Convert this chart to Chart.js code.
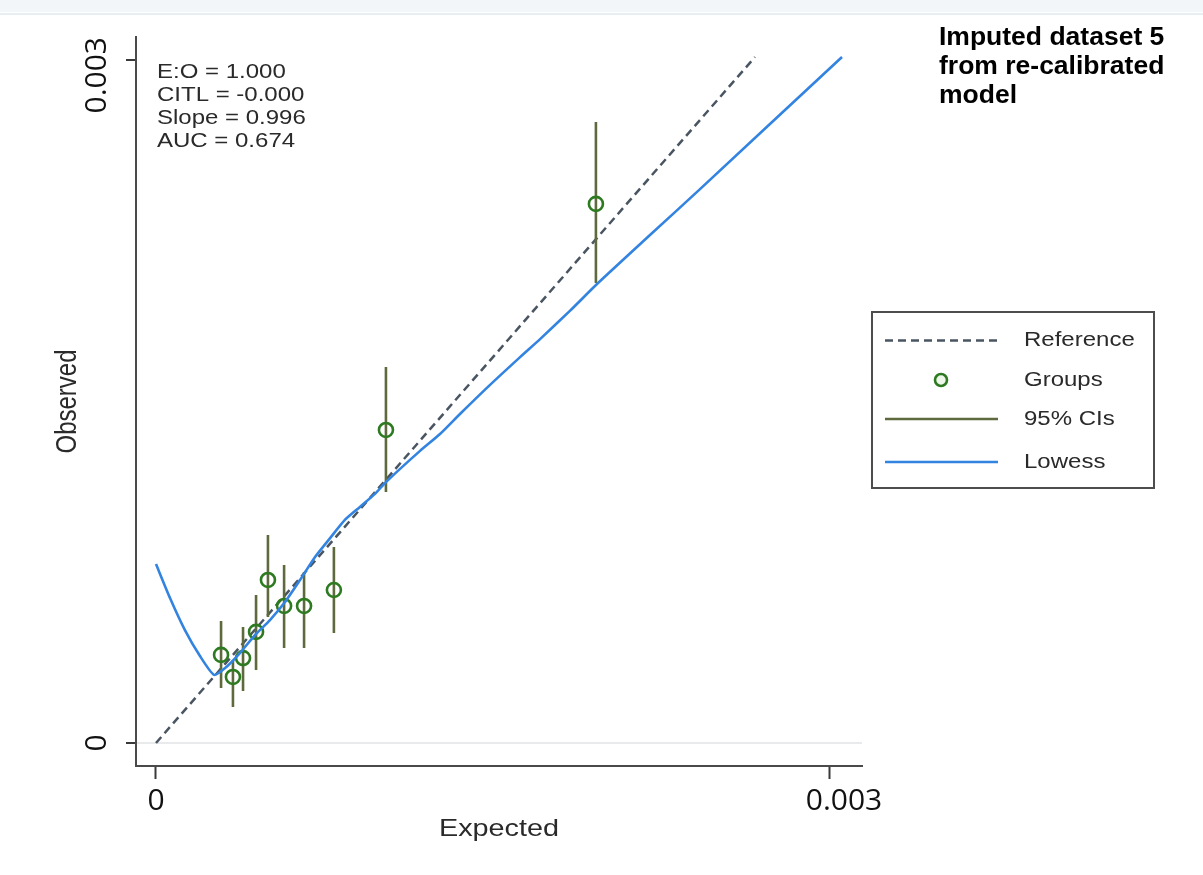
<!DOCTYPE html>
<html>
<head>
<meta charset="utf-8">
<title>Calibration plot</title>
<script src="https://cdn.jsdelivr.net/npm/chart.js@4.4.1/dist/chart.umd.min.js"></script>
<style>
  html, body { margin: 0; padding: 0; background: #ffffff; }
  #wrap { position: relative; width: 1203px; height: 875px; }
  canvas { display: block; }
</style>
</head>
<body>
<div id="wrap"><canvas id="cal" width="1203" height="875"></canvas></div>
<script>
// Axis ticks
const xTicks = [0, 0.003];
const yTicks = [0, 0.003];
const xTickLabels = ['0', '0.003'];
const yTickLabels = ['0', '0.003'];

// Grouped calibration points (expected vs observed) with 95% intervals
const groupExpected = [0.000290, 0.000343, 0.000388, 0.000446, 0.000499, 0.000571, 0.000660, 0.000793, 0.001025, 0.001961];
const groupObserved = [0.000387, 0.000290, 0.000373, 0.000488, 0.000716, 0.000602, 0.000602, 0.000672, 0.001375, 0.002368];
const ciLower       = [0.000242, 0.000158, 0.000228, 0.000321, 0.000553, 0.000417, 0.000417, 0.000483, 0.001102, 0.002021];
const ciUpper       = [0.000536, 0.000365, 0.000510, 0.000650, 0.000914, 0.000782, 0.000751, 0.000861, 0.001652, 0.002728];

// Lowess smoother
const lowessX = [0, 0.0000624, 0.000129, 0.000196, 0.000259, 0.000308, 0.000374, 0.000441, 0.000508, 0.000575,
                 0.000642, 0.000709, 0.000776, 0.000842, 0.000909, 0.000976, 0.001025, 0.001177, 0.001266,
                 0.001355, 0.001489, 0.001623, 0.001712, 0.001845, 0.001966, 0.002202, 0.002425, 0.003058];
const lowessY = [0.000786, 0.000637, 0.000496, 0.000382, 0.000299, 0.000329, 0.000395, 0.000474, 0.000540, 0.000619,
                 0.000716, 0.000817, 0.000900, 0.000980, 0.001037, 0.001094, 0.001146, 0.001283, 0.001357,
                 0.001445, 0.001573, 0.001695, 0.001774, 0.001898, 0.002016, 0.002231, 0.002433, 0.003013];

// Reference line
const refX = [0, 0.002670];
const refY = [0, 0.003013];

// Text
const statsLines = ['E:O = 1.000', 'CITL = -0.000', 'Slope = 0.996', 'AUC = 0.674'];
const titleLines = ['Imputed dataset 5', 'from re-calibrated', 'model'];
const xTitle = 'Expected';
const yTitle = 'Observed';

const STATA_FONT = '"Liberation Sans", Arial, sans-serif';
const TICK_FONT = '"Open Sans", "Noto Sans", sans-serif';
const TEXT_COLOR = '#2a2a2a';
const STRETCH = 1.2;

const refData = refX.map((x, i) => ({ x, y: refY[i] }));
const groupData = groupExpected.map((x, i) => ({ x, y: groupObserved[i] }));
const ciData = [];
groupExpected.forEach((x, i) => {
  ciData.push({ x, y: ciLower[i] });
  ciData.push({ x, y: ciUpper[i] });
  ciData.push({ x, y: null });
});
const lowessData = lowessX.map((x, i) => ({ x, y: lowessY[i] }));

function stretchedText(ctx, text, x, y, font, align, rotate) {
  ctx.save();
  ctx.font = font;
  ctx.fillStyle = TEXT_COLOR;
  ctx.textBaseline = 'middle';
  ctx.textAlign = align;
  ctx.translate(x, y);
  ctx.scale(STRETCH, 1);
  if (rotate) ctx.rotate(-Math.PI / 2);
  ctx.fillText(text, 0, 0);
  ctx.restore();
}

const decorations = {
  id: 'decorations',
  beforeDraw(chart) {
    const ctx = chart.ctx;
    ctx.save();
    ctx.fillStyle = '#ffffff';
    ctx.fillRect(0, 0, chart.width, chart.height);
    ctx.fillStyle = '#f3f6f9';
    ctx.fillRect(0, 0, chart.width, 12);
    ctx.strokeStyle = '#e2e8ee';
    ctx.lineWidth = 1.5;
    ctx.beginPath(); ctx.moveTo(0, 14); ctx.lineTo(chart.width, 14); ctx.stroke();
    ctx.restore();
  },
  afterDraw(chart) {
    const ctx = chart.ctx;
    const area = chart.chartArea;
    const xs = chart.scales.x, ys = chart.scales.y;

    // x tick labels
    ctx.save();
    ctx.font = '30px ' + TICK_FONT;
    ctx.fillStyle = '#111111';
    ctx.textBaseline = 'middle';
    ctx.textAlign = 'center';
    xTicks.forEach((v, i) => {
      let px = xs.getPixelForValue(v);
      if (i === xTicks.length - 1) px += 15;
      ctx.fillText(xTickLabels[i], px, area.bottom + 35);
    });
    // y tick labels, rotated, kept inside the plot height
    yTicks.forEach((v, i) => {
      const w = ctx.measureText(yTickLabels[i]).width;
      let py = ys.getPixelForValue(v);
      py = Math.max(py, area.top + w / 2);
      ctx.save();
      ctx.translate(97, py);
      ctx.rotate(-Math.PI / 2);
      ctx.fillText(yTickLabels[i], 0, 0);
      ctx.restore();
    });
    ctx.restore();

    // axis titles
    const titleFont = '24px ' + STATA_FONT;
    stretchedText(ctx, xTitle, (area.left + area.right) / 2, 829, titleFont, 'center', false);
    stretchedText(ctx, yTitle, 68, (area.top + area.bottom) / 2, titleFont, 'center', true);

    // statistics block
    const statFont = '20px ' + STATA_FONT;
    statsLines.forEach((t, i) => {
      stretchedText(ctx, t, 157, 72 + i * 23.3, statFont, 'left', false);
    });

    // title
    ctx.save();
    ctx.font = 'bold 26.5px ' + STATA_FONT;
    ctx.fillStyle = '#000000';
    ctx.textBaseline = 'alphabetic';
    ctx.textAlign = 'left';
    titleLines.forEach((t, i) => ctx.fillText(t, 939, 45 + i * 29));
    ctx.restore();

    // legend
    const box = { left: 872, top: 312, right: 1154, bottom: 488 };
    ctx.save();
    ctx.fillStyle = '#ffffff';
    ctx.fillRect(box.left, box.top, box.right - box.left, box.bottom - box.top);
    ctx.strokeStyle = '#4d4d4d';
    ctx.lineWidth = 2;
    ctx.strokeRect(box.left, box.top, box.right - box.left, box.bottom - box.top);
    ctx.restore();
    const rows = [340.5, 380, 419, 462];
    const legendFont = '20px ' + STATA_FONT;
    chart.data.datasets.forEach((ds, i) => {
      const y = rows[i];
      ctx.save();
      if (ds.showLine) {
        ctx.strokeStyle = ds.borderColor;
        ctx.lineWidth = ds.borderWidth;
        ctx.setLineDash(ds.borderDash || []);
        ctx.beginPath(); ctx.moveTo(885, y); ctx.lineTo(998, y); ctx.stroke();
      } else {
        ctx.strokeStyle = ds.pointBorderColor;
        ctx.lineWidth = ds.pointBorderWidth;
        ctx.fillStyle = '#eef7ea';
        ctx.beginPath(); ctx.arc(941, y, 6, 0, Math.PI * 2); ctx.fill(); ctx.stroke();
      }
      ctx.restore();
      stretchedText(ctx, ds.label, 1024, y, legendFont, 'left', false);
    });
  }
};

new Chart(document.getElementById('cal'), {
  type: 'scatter',
  data: {
    datasets: [
      {
        label: 'Reference',
        data: refData,
        showLine: true,
        borderColor: '#4a5562',
        borderWidth: 2.5,
        borderDash: [8, 5],
        pointRadius: 0,
        order: 4
      },
      {
        label: 'Groups',
        data: groupData,
        showLine: false,
        pointRadius: 7,
        pointHoverRadius: 7,
        pointStyle: 'circle',
        pointBackgroundColor: 'rgba(255,255,255,0)',
        pointBorderColor: '#2d7a20',
        pointBorderWidth: 2.6,
        order: 2
      },
      {
        label: '95% CIs',
        data: ciData,
        showLine: true,
        spanGaps: false,
        borderColor: '#5e6a3e',
        borderWidth: 2.6,
        pointRadius: 0,
        order: 3
      },
      {
        label: 'Lowess',
        data: lowessData,
        showLine: true,
        borderColor: '#3384e0',
        borderWidth: 2.6,
        tension: 0.2,
        pointRadius: 0,
        order: 1
      }
    ]
  },
  options: {
    responsive: false,
    animation: false,
    devicePixelRatio: 1,
    layout: { padding: { top: 37, right: 341, left: 0, bottom: 0 } },
    plugins: {
      legend: { display: false },
      tooltip: { enabled: false },
      title: { display: false }
    },
    scales: {
      x: {
        type: 'linear',
        min: -0.00008915,
        max: 0.0031471,
        afterBuildTicks(scale) { scale.ticks = xTicks.map(v => ({ value: v })); },
        afterFit(scale) { scale.height = 109; },
        ticks: { display: false },
        grid: {
          drawOnChartArea: false,
          drawTicks: true,
          tickLength: 13,
          tickColor: '#3a3a3a',
          tickWidth: 2
        },
        border: { display: true, color: '#4a4a4a', width: 2 }
      },
      y: {
        type: 'linear',
        min: -0.00010103,
        max: 0.0031010,
        afterBuildTicks(scale) { scale.ticks = yTicks.map(v => ({ value: v })); },
        afterFit(scale) { scale.width = 136; },
        ticks: { display: false },
        grid: {
          color: (c) => (c.tick && c.tick.value === 0 ? '#e8eaec' : 'rgba(0,0,0,0)'),
          lineWidth: 2,
          drawTicks: true,
          tickLength: 10,
          tickColor: '#3a3a3a',
          tickWidth: 2
        },
        border: { display: true, color: '#4a4a4a', width: 2 }
      }
    }
  },
  plugins: [decorations]
});
</script>
</body>
</html>
